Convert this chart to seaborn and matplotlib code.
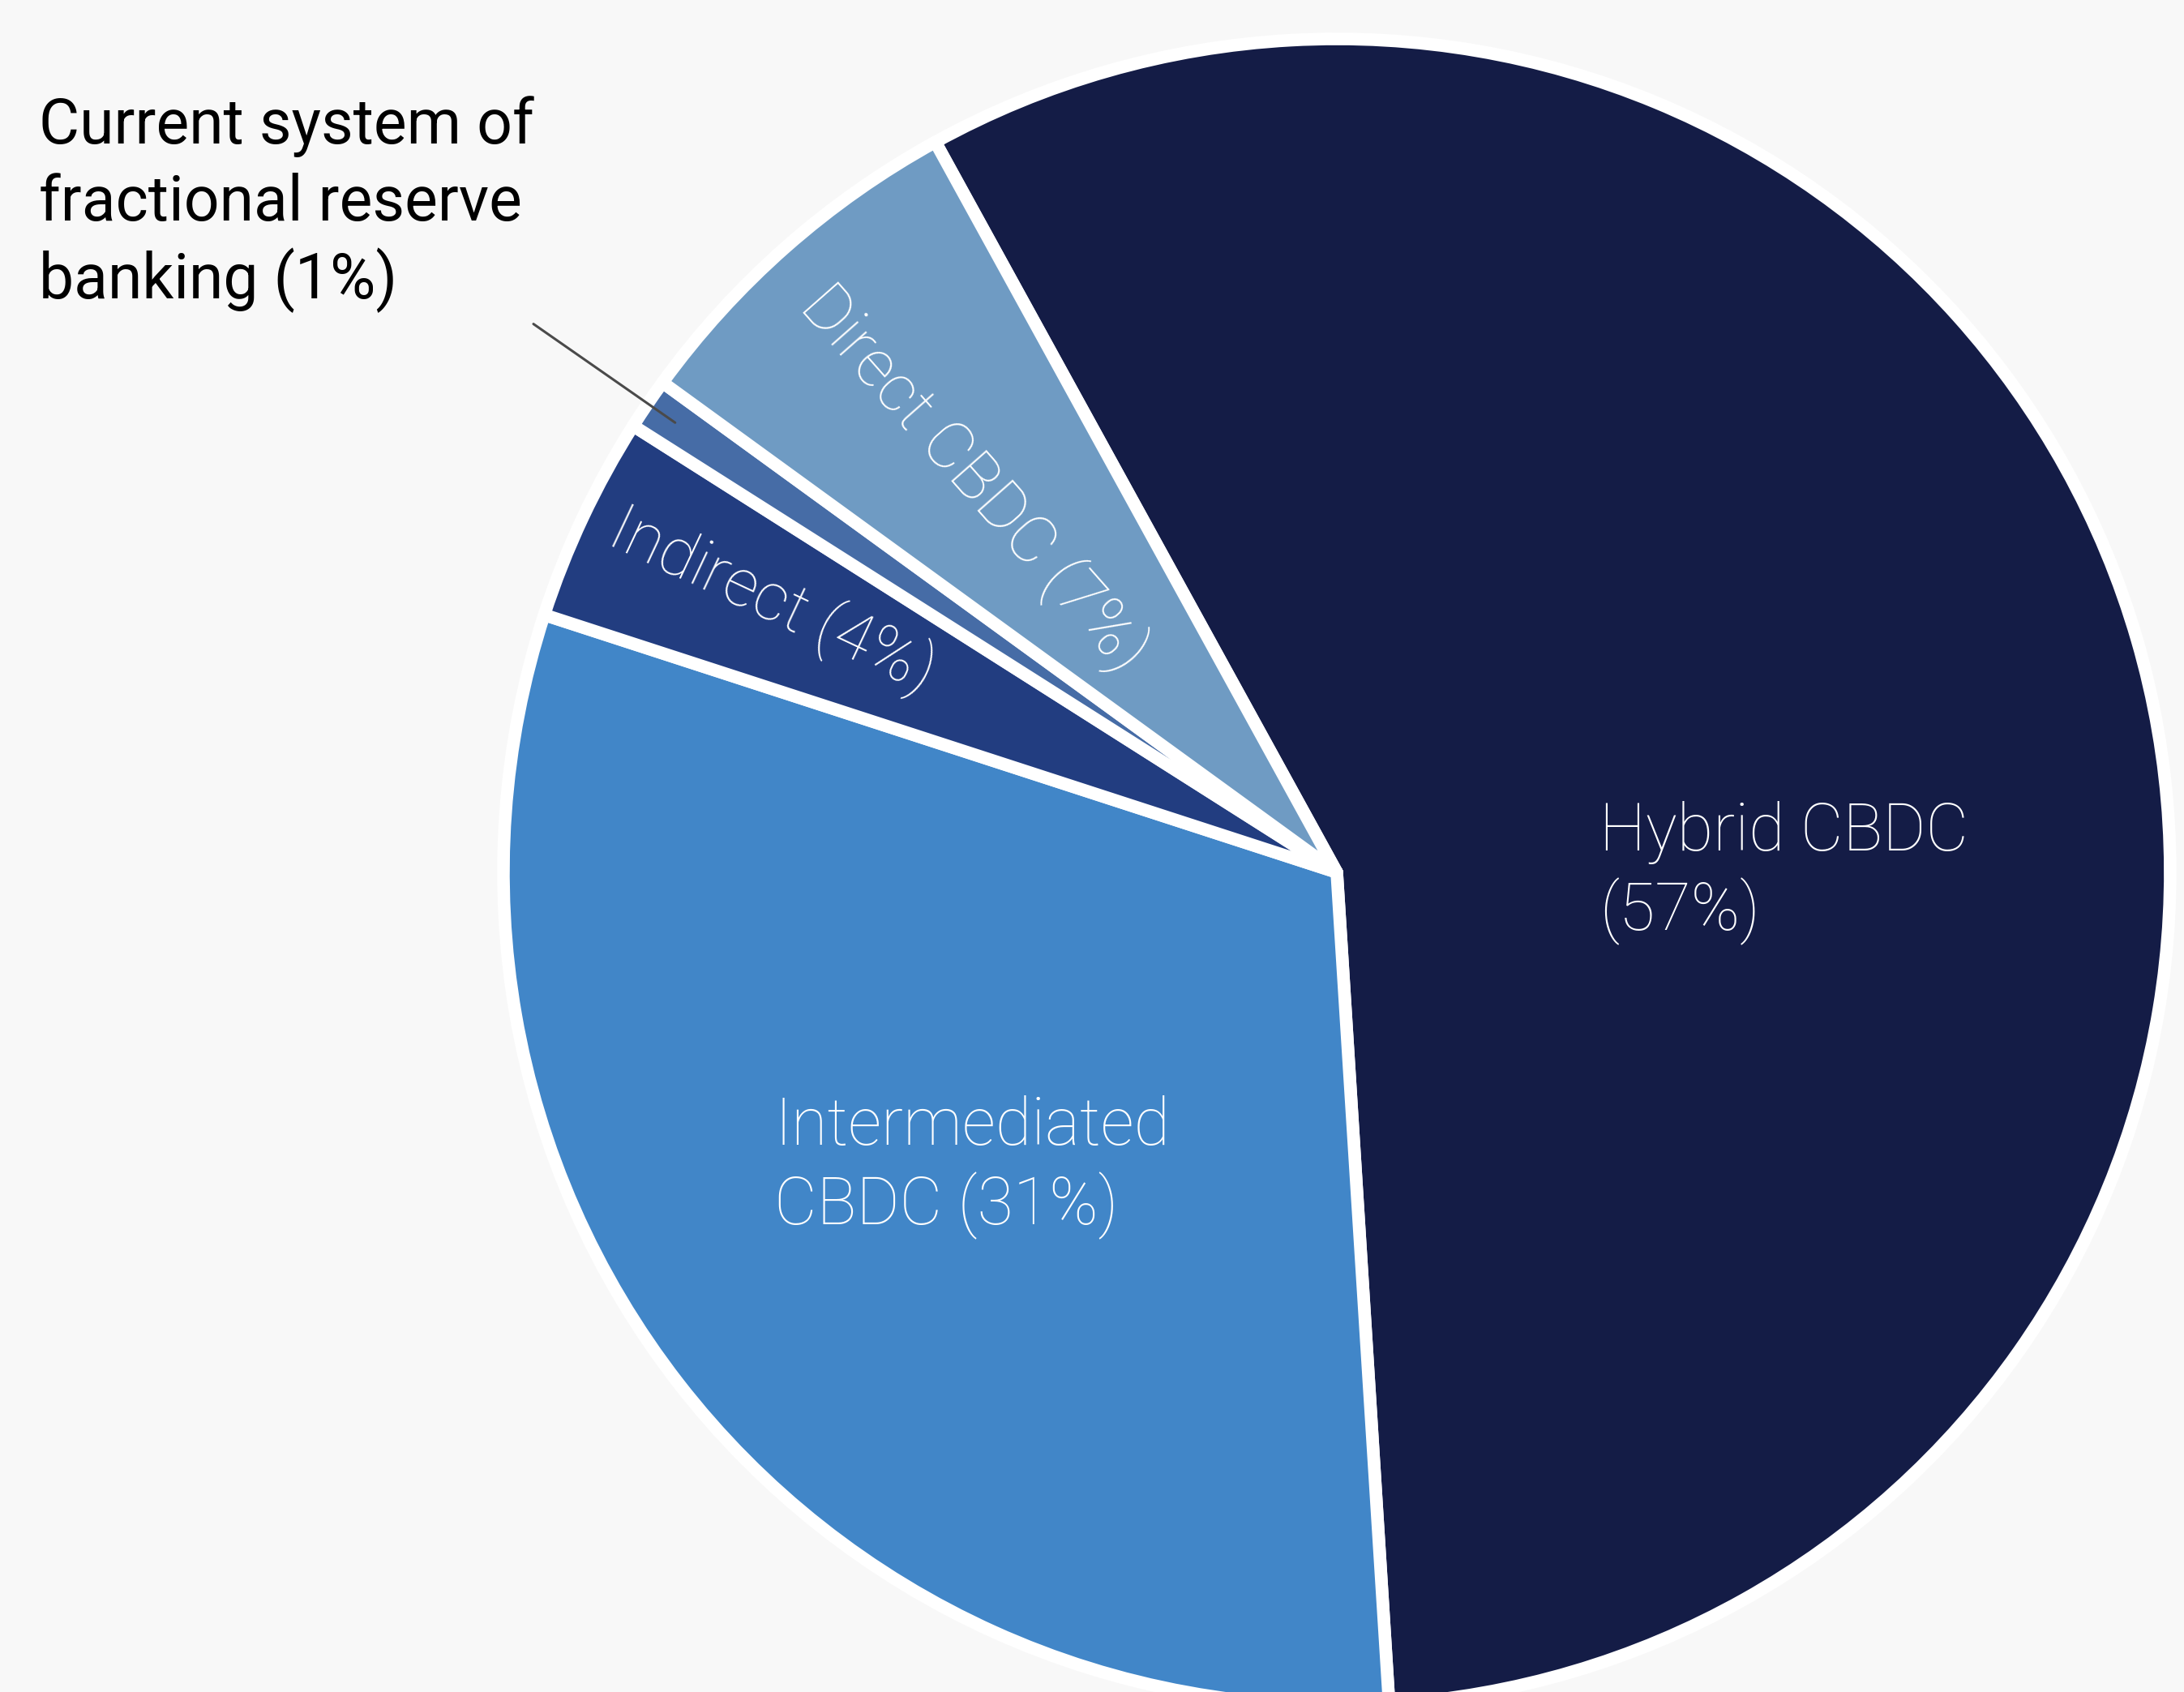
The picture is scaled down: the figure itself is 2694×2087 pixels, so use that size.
import numpy as np
import pandas as pd
import seaborn as sns
import matplotlib
matplotlib.use("Agg")
import matplotlib.pyplot as plt

# ---- data ----
categories = ["Hybrid CBDC", "Intermediated CBDC", "Indirect",
              "Current system of fractional reserve banking", "Direct CBDC"]
shares = [57, 31, 4, 1, 7]
label_lines = [["Hybrid CBDC", "(57%)"],
               ["Intermediated", "CBDC (31%)"],
               ["Indirect (4%)"],
               ["Current system of", "fractional reserve", "banking (1%)"],
               ["Direct CBDC (7%)"]]
colors = ["#141c46", "#4186c8", "#223d80", "#466ca6", "#6f9bc3"]

df = pd.DataFrame({"category": categories, "share": shares})

sns.set_theme(style="white")
plt.rcParams["font.family"] = ["Roboto", "DejaVu Sans"]

BG = "#f8f8f8"
fig = plt.figure(figsize=(13.47, 10.435), dpi=200, facecolor=BG)
ax = fig.add_axes([0, 0, 1, 1])
ax.set_facecolor(BG)

wedges, _ = ax.pie(df["share"], colors=colors, startangle=118.8,
                   counterclock=False, radius=1.0,
                   wedgeprops=dict(edgecolor="white", linewidth=5.6,
                                   joinstyle="round"))

ax.set_xlim(-1.604, 1.0165)
ax.set_ylim(-0.9835, 1.0467)
ax.set_aspect("equal", adjustable="box")
ax.axis("off")

FS = 29.2
inner = dict(color="white", fontsize=FS, fontweight="light")

def mid_angle(w):
    return (w.theta1 + w.theta2) / 2.0

# Hybrid label
for i, line in enumerate(label_lines[0]):
    ax.text(0.315, 0.026 - i * 0.0955, line, ha="left", va="baseline", **inner)

# Intermediated label
for i, line in enumerate(label_lines[1]):
    ax.text(-0.675, -0.327 - i * 0.0955, line, ha="left", va="baseline", **inner)

# Rotated labels along radius
for idx, r, dang in [(2, 0.752, -0.4), (4, 0.642, 1.3)]:
    m = mid_angle(wedges[idx])
    a = np.deg2rad(m + dang)
    ax.text(r * np.cos(a), r * np.sin(a), label_lines[idx][0],
            rotation=m - 180, rotation_mode="anchor",
            ha="center", va="center", **inner)

# Outside label for the 1% slice
for i, line in enumerate(label_lines[3]):
    ax.text(-1.557, 0.875 - i * 0.093, line, ha="left", va="baseline",
            color="black", fontsize=FS - 1.5)

m = np.deg2rad(mid_angle(wedges[3]))
ax.annotate("", xy=(0.96 * np.cos(m), 0.96 * np.sin(m)), xytext=(-0.964, 0.658),
            arrowprops=dict(arrowstyle="-", color="#4a4a4a", lw=1.1,
                            shrinkA=0, shrinkB=0))

fig.savefig("out.png", dpi=200, facecolor=BG)
